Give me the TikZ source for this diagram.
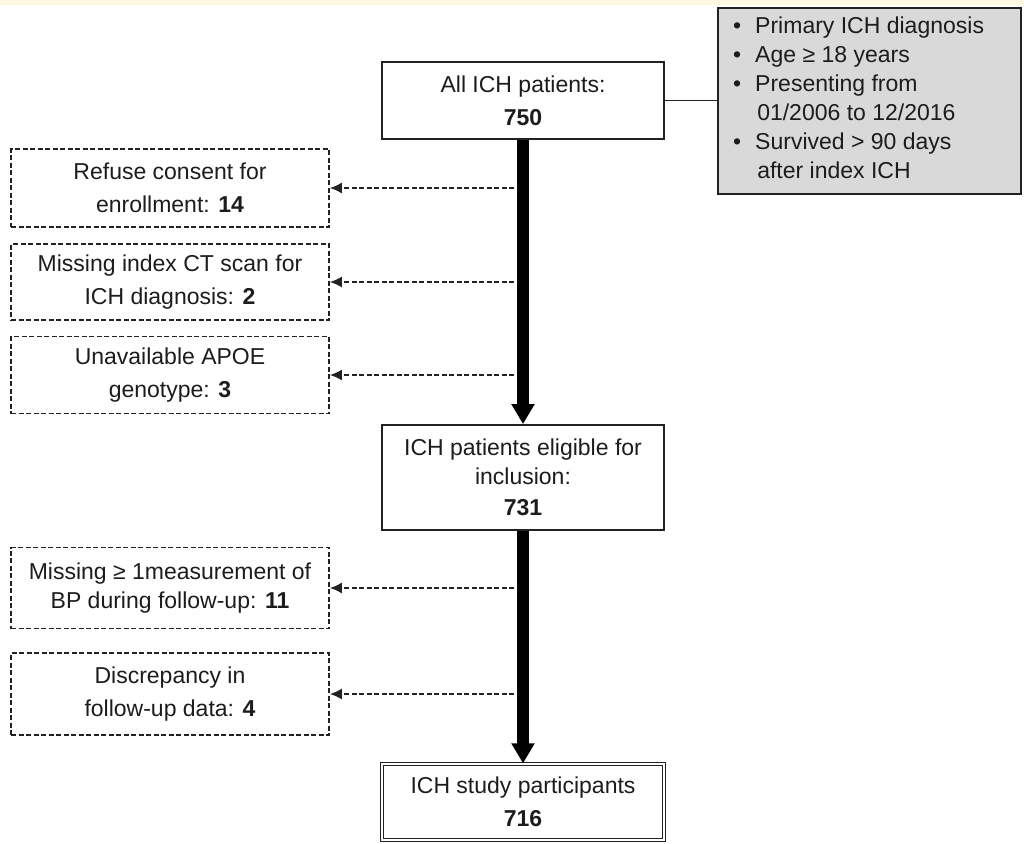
\documentclass[tikz,border=0pt]{standalone}
\usepackage{fontspec}
\setmainfont{Liberation Sans}
\usetikzlibrary{arrows.meta}
\definecolor{txt}{HTML}{1C1C1C}
\definecolor{edge}{HTML}{222222}
\definecolor{critfill}{HTML}{D9D9D9}
\definecolor{band}{HTML}{FFF8E1}
\begin{document}
\begin{tikzpicture}[x=1pt,y=-1pt,
  every node/.style={font=\fontsize{23}{33}\selectfont, text=txt, align=center, inner sep=0pt},
  mainbox/.style={draw=edge, line width=1.8pt, minimum width=282pt, fill=white},
  finalbox/.style={draw=edge, double=white, line width=1.3pt, double distance=2pt, minimum width=282pt},
  exclbox/.style={draw=edge, line width=1.6pt, dash pattern=on 5pt off 2.5pt, minimum width=318pt},
  critbox/.style={draw=edge, line width=1.8pt, fill=critfill},
  flow/.style={line width=12pt, draw=black, -{Triangle[width=22pt,length=20pt]}},
  excl/.style={draw=edge, line width=1.8pt, dash pattern=on 5pt off 2.5pt, -{Latex[width=11pt,length=12pt]}},
  conn/.style={draw=edge, line width=1.6pt},
]
\useasboundingbox (0,0) rectangle (1024,843);
\fill[band] (0,0) rectangle (1024,5);

% criteria box
\node[critbox, anchor=north west, minimum width=303pt, minimum height=186pt] (crit) at (717,7) {};
\node[anchor=west, align=left] (crittext) at (733,100) {\fontsize{23}{29}\selectfont
\begin{tabular}{@{}l@{\hspace{14pt}}l@{}}
• & Primary ICH diagnosis\\
• & Age ≥ 18 years\\
• & Presenting from\\
  & \hspace{2pt}01/2006 to 12/2016\\
• & Survived > 90 days\\
  & \hspace{2pt}after index ICH
\end{tabular}};

% main boxes
\node[mainbox, minimum height=77pt] (all) at (523,100.5) {All ICH patients:\\\textbf{750}};
\node[mainbox, minimum height=105pt, font=\fontsize{23}{29}\selectfont] (elig) at (523,477.5) {ICH patients eligible for\\inclusion:\\[2pt]\textbf{731}};
\node[finalbox, minimum height=76pt] (final) at (523,802) {ICH study participants\\\textbf{716}};

% exclusion boxes
\node[exclbox, minimum height=78pt] (r1) at (170,188) {Refuse consent for\\enrollment: \textbf{14}};
\node[exclbox, minimum height=76pt] (r2) at (170,282) {Missing index CT scan for\\ICH diagnosis: \textbf{2}};
\node[exclbox, minimum height=77pt] (r3) at (170,375) {Unavailable APOE\\genotype: \textbf{3}};
\node[exclbox, minimum height=81pt, font=\fontsize{23}{29}\selectfont] (r4) at (170,588) {Missing ≥ 1measurement of\\BP during follow-up: \textbf{11}};
\node[exclbox, minimum height=82pt] (r5) at (170,694) {Discrepancy in\\follow-up data: \textbf{4}};

% connectors
\draw[conn] (all.east) -- (all.east -| crit.west);
\draw[flow] (all.south) -- (elig.north);
\draw[flow] (elig.south) -- (final.north);

\coordinate (s1) at (514,188);
\coordinate (s2) at (514,282);
\coordinate (s3) at (514,375);
\coordinate (s4) at (514,588);
\coordinate (s5) at (514,694);
\draw[excl] (s1) -- (r1.east);
\draw[excl] (s2) -- (r2.east);
\draw[excl] (s3) -- (r3.east);
\draw[excl] (s4) -- (r4.east);
\draw[excl] (s5) -- (r5.east);
\end{tikzpicture}
\end{document}
